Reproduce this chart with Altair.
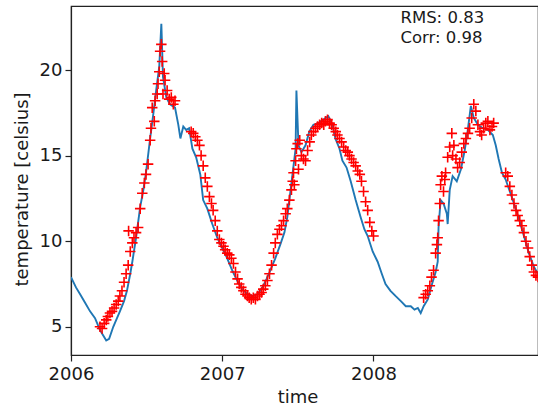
import altair as alt
import pandas as pd

# ---- model (blue line) ----
model_dates = [
    "2006-01-01", "2006-01-13", "2006-01-23", "2006-02-04", "2006-02-16", "2006-02-28",
    "2006-03-12", "2006-03-22", "2006-03-27", "2006-04-03", "2006-04-13", "2006-04-22",
    "2006-04-29", "2006-05-09", "2006-05-16", "2006-05-24", "2006-05-29", "2006-06-07",
    "2006-06-17", "2006-06-24", "2006-07-01", "2006-07-11", "2006-07-18", "2006-07-26",
    "2006-08-02", "2006-08-07", "2006-08-11", "2006-08-19", "2006-08-28", "2006-09-09",
    "2006-09-17", "2006-09-22", "2006-09-29", "2006-10-06", "2006-10-13", "2006-10-21",
    "2006-10-30", "2006-11-09", "2006-11-16", "2006-11-26", "2006-12-08", "2006-12-20",
    "2007-01-01", "2007-01-13", "2007-01-25", "2007-02-06", "2007-02-18", "2007-03-03",
    "2007-03-15", "2007-03-27", "2007-04-08", "2007-04-18", "2007-04-27", "2007-05-09",
    "2007-05-21", "2007-05-31", "2007-06-07", "2007-06-15", "2007-06-22", "2007-06-27",
    "2007-06-29", "2007-07-04", "2007-07-11", "2007-07-21", "2007-07-30", "2007-08-09",
    "2007-08-21", "2007-09-02", "2007-09-14", "2007-09-24", "2007-10-01", "2007-10-11",
    "2007-10-18", "2007-10-28", "2007-11-07", "2007-11-19", "2007-12-01", "2007-12-10",
    "2007-12-18", "2007-12-30", "2008-01-11", "2008-01-21", "2008-01-30", "2008-02-11",
    "2008-02-23", "2008-03-07", "2008-03-19", "2008-03-31", "2008-04-09", "2008-04-17",
    "2008-04-24", "2008-05-01", "2008-05-11", "2008-05-20", "2008-05-30", "2008-06-04",
    "2008-06-06", "2008-06-11", "2008-06-18", "2008-06-26", "2008-06-28", "2008-07-03",
    "2008-07-10", "2008-07-20", "2008-07-30", "2008-08-08", "2008-08-15", "2008-08-23",
    "2008-08-30", "2008-09-09", "2008-09-21", "2008-10-03", "2008-10-15", "2008-10-22",
    "2008-10-29", "2008-11-06", "2008-11-15", "2008-11-25", "2008-12-05", "2008-12-17",
    "2008-12-29", "2009-01-10", "2009-01-22", "2009-02-03",
]
model_temp = [
    7.9, 7.3, 6.9, 6.4, 5.9, 5.5,
    4.8, 4.4, 4.2, 4.3, 5.0, 5.5,
    5.9, 6.5, 7.1, 8.1, 8.8, 10.2,
    12.0, 12.9, 14.0, 16.0, 17.3, 18.9,
    20.2, 22.7, 19.6, 18.4, 18.0, 17.8,
    16.8, 16.0, 16.7, 16.5, 16.6, 15.4,
    14.9, 13.9, 12.4, 11.9, 11.0, 10.2,
    9.6, 9.0, 8.3, 7.7, 7.2, 6.9,
    6.8, 6.9, 7.3, 7.8, 8.3, 9.0,
    9.8, 10.5, 11.4, 13.0, 14.4, 15.4,
    18.8, 15.6, 15.2, 15.6, 16.4, 16.8,
    16.9, 17.1, 17.3, 16.8, 16.0, 15.4,
    14.7, 14.3, 13.5, 12.4, 11.4, 10.7,
    10.3, 9.4, 8.8, 8.1, 7.5, 7.1,
    6.8, 6.5, 6.2, 6.2, 6.0, 6.1,
    5.8, 6.2, 6.6, 7.4, 8.2, 8.8,
    10.8, 12.4, 12.2, 11.6, 11.0, 13.0,
    13.8, 13.5, 14.2, 15.3, 16.4, 17.9,
    17.2, 16.8, 16.6, 16.5, 16.2, 15.6,
    14.8, 14.0, 13.6, 12.9, 12.2, 11.3,
    10.3, 9.3, 8.5, 8.0,
]

# ---- observations (red plus markers) ----
obs_dates = [
    # 2006 spring-summer
    "2006-03-12", "2006-03-17", "2006-03-22", "2006-03-27", "2006-03-31", "2006-04-05",
    "2006-04-10", "2006-04-15", "2006-04-20", "2006-04-25", "2006-04-29", "2006-05-04",
    "2006-05-09", "2006-05-14", "2006-05-19", "2006-05-20", "2006-05-24", "2006-05-29",
    "2006-06-02", "2006-06-07", "2006-06-12", "2006-06-17", "2006-06-22", "2006-06-27",
    "2006-07-01", "2006-07-06", "2006-07-11", "2006-07-13", "2006-07-16", "2006-07-21",
    "2006-07-23", "2006-07-28", "2006-07-30", "2006-08-02", "2006-08-04", "2006-08-07",
    "2006-08-09", "2006-08-11", "2006-08-14", "2006-08-16", "2006-08-21", "2006-08-26",
    "2006-08-31", "2006-09-05", "2006-09-09",
    # 2006 autumn - 2007
    "2006-10-18", "2006-10-23", "2006-10-28", "2006-11-02", "2006-11-07", "2006-11-11",
    "2006-11-16", "2006-11-21", "2006-11-26", "2006-12-01", "2006-12-06", "2006-12-10",
    "2006-12-15", "2006-12-20", "2006-12-25", "2006-12-30", "2007-01-04", "2007-01-08",
    "2007-01-13", "2007-01-18", "2007-01-23", "2007-01-28", "2007-02-02", "2007-02-07",
    "2007-02-11", "2007-02-16", "2007-02-21", "2007-02-26", "2007-03-03", "2007-03-07",
    "2007-03-12", "2007-03-17", "2007-03-22", "2007-03-27", "2007-04-01", "2007-04-06",
    "2007-04-10", "2007-04-15", "2007-04-20", "2007-04-25", "2007-04-30", "2007-05-05",
    "2007-05-09", "2007-05-14", "2007-05-19", "2007-05-24", "2007-05-29", "2007-06-03",
    "2007-06-07", "2007-06-12", "2007-06-17", "2007-06-20", "2007-06-22", "2007-06-24",
    "2007-06-27", "2007-06-29", "2007-07-02", "2007-07-04", "2007-07-07", "2007-07-11",
    "2007-07-16", "2007-07-21", "2007-07-26", "2007-07-31", "2007-08-04", "2007-08-09",
    "2007-08-14", "2007-08-19", "2007-08-24", "2007-08-29", "2007-09-03", "2007-09-07",
    "2007-09-12", "2007-09-17", "2007-09-22", "2007-09-27", "2007-10-02", "2007-10-06",
    "2007-10-11", "2007-10-16", "2007-10-21", "2007-10-26", "2007-10-31", "2007-11-04",
    "2007-11-09", "2007-11-14", "2007-11-19", "2007-11-24", "2007-11-29", "2007-12-03",
    "2007-12-08", "2007-12-13", "2007-12-18", "2007-12-23", "2007-12-28", "2008-01-01",
    # 2008
    "2008-05-01", "2008-05-06", "2008-05-11", "2008-05-16", "2008-05-20", "2008-05-25",
    "2008-05-30", "2008-06-02", "2008-06-04", "2008-06-06", "2008-06-09", "2008-06-11",
    "2008-06-14", "2008-06-18", "2008-06-21", "2008-06-23", "2008-06-28", "2008-07-03",
    "2008-07-08", "2008-07-10", "2008-07-13", "2008-07-18", "2008-07-22", "2008-07-27",
    "2008-08-01", "2008-08-06", "2008-08-11", "2008-08-16", "2008-08-20", "2008-08-25",
    "2008-08-30", "2008-09-04", "2008-09-09", "2008-09-14", "2008-09-18", "2008-09-23",
    "2008-09-28", "2008-10-03", "2008-10-08", "2008-10-13", "2008-10-17",
    "2008-11-15", "2008-11-20", "2008-11-25", "2008-11-30", "2008-12-05", "2008-12-10",
    "2008-12-14", "2008-12-19", "2008-12-24", "2008-12-29", "2009-01-03", "2009-01-08",
    "2009-01-12", "2009-01-17", "2009-01-22", "2009-01-27", "2009-02-01",
]
obs_temp = [
    5.0, 4.9, 5.2, 5.4, 5.6, 5.8,
    5.9, 6.1, 6.3, 6.5, 6.8, 7.1,
    7.6, 8.1, 8.6, 10.6, 9.4, 9.9,
    10.2, 10.5, 10.8, 11.9, 12.8, 13.4,
    13.9, 14.5, 15.9, 16.6, 17.8, 17.0,
    18.2, 18.6, 19.2, 19.9, 21.1, 21.5,
    20.5, 18.6, 19.8, 19.4, 18.8, 18.3,
    18.4, 18.0, 18.2,
    16.4, 16.3, 16.1, 15.9, 15.6, 15.0,
    14.4, 13.7, 13.2, 12.6, 12.2, 11.8,
    11.2, 10.6, 10.1, 9.9, 9.7, 9.5,
    9.3, 9.2, 9.0, 8.7, 8.2, 7.8,
    7.5, 7.3, 7.1, 6.9, 6.8, 6.7,
    6.6, 6.7, 6.6, 6.8, 6.9, 7.0,
    7.2, 7.4, 7.7, 8.1, 8.6, 9.3,
    9.9, 10.4, 10.7, 10.9, 11.2, 11.6,
    11.9, 12.4, 13.0, 13.5, 14.0, 13.3,
    14.7, 15.4, 15.7, 14.2, 15.9, 15.0,
    14.8, 14.7, 15.3, 15.8, 16.2, 16.4,
    16.6, 16.7, 16.8, 16.9, 16.8, 17.0,
    17.1, 16.9, 16.8, 16.6, 16.4, 16.2,
    16.0, 15.8, 15.5, 15.3, 15.2, 15.0,
    14.8, 14.6, 14.4, 14.1, 13.9, 13.5,
    12.9, 12.3, 11.8, 11.1, 10.6, 10.3,
    6.7, 6.9, 7.1, 7.4, 7.9, 8.3,
    9.3, 9.8, 10.2, 11.2, 12.2, 13.3,
    13.8, 12.9, 13.6, 14.0, 14.9, 15.5,
    16.3, 15.0, 15.6, 14.8, 14.3, 14.6,
    15.2, 15.7, 16.0, 16.3, 16.6, 17.2,
    18.0, 17.6, 16.8, 16.4, 16.2, 16.6,
    16.9, 17.0, 16.5, 16.7, 16.9,
    14.0, 13.8, 13.2, 12.7, 12.2, 11.8,
    11.5, 11.2, 10.9, 10.5, 10.0, 9.6,
    9.1, 8.6, 8.2, 8.0, 7.9,
]

# statistics box (two lines)
stat_labels = ["RMS: 0.83", "Corr: 0.98"]
stat_dates = ["2008-03-06", "2008-03-06"]
stat_temp = [22.75, 21.6]

x_tick_years = [2006, 2007, 2008]
y_ticks = [5, 10, 15, 20]
x_start = (2006, 1, 1)
x_end = (2009, 2, 1)
y_domain = [3.35, 23.74]

FONT = "DejaVu Sans"
FS = 18

model = pd.DataFrame({"time": model_dates, "temp": model_temp})
obs = pd.DataFrame({"time": obs_dates, "temp": obs_temp})
stats = pd.DataFrame({"time": stat_dates, "temp": stat_temp, "label": stat_labels})

x_scale = alt.Scale(
    type="utc",
    domain=[
        alt.DateTime(year=x_start[0], month=x_start[1], date=x_start[2], utc=True),
        alt.DateTime(year=x_end[0], month=x_end[1], date=x_end[2], utc=True),
    ],
    nice=False,
)
y_scale = alt.Scale(domain=y_domain, nice=False, zero=False)

x_axis = alt.Axis(
    title="time",
    values=[alt.DateTime(year=y, month=1, date=1, utc=True) for y in x_tick_years],
    format="%Y",
    formatType="utc",
    grid=False,
    tickSize=6,
    labelPadding=4,
    labelFlush=False,
    titleX=226.5,
    titleY=47,
    titleBaseline="alphabetic",
)
y_axis = alt.Axis(
    title="temperature [celsius]",
    values=y_ticks,
    grid=False,
    tickSize=6,
    labelPadding=3,
    labelFlush=False,
    titleX=-44,
    titleY=183,
    titleBaseline="alphabetic",
)

line = alt.Chart(model).mark_line(color="#1f77b4", strokeWidth=1.9, clip=True).encode(
    x=alt.X("time:T", scale=x_scale, axis=x_axis),
    y=alt.Y("temp:Q", scale=y_scale, axis=y_axis),
)

points = alt.Chart(obs).mark_point(
    shape="M-1,0L1,0M0,-1L0,1",
    filled=False,
    stroke="#ff0000",
    strokeWidth=1.6,
    size=110,
    opacity=1,
    clip=True,
).encode(
    x=alt.X("time:T", scale=x_scale),
    y=alt.Y("temp:Q", scale=y_scale),
)

text = alt.Chart(stats).mark_text(
    align="left",
    baseline="alphabetic",
    font=FONT,
    fontSize=16.5,
    color="#1a1a1a",
).encode(
    x=alt.X("time:T", scale=x_scale),
    y=alt.Y("temp:Q", scale=y_scale),
    text="label:N",
)

chart = (
    alt.layer(line, points, text)
    .properties(
        width=467,
        height=349,
        autosize=alt.AutoSizeParams(type="none"),
        padding={"left": 71, "top": 6, "right": 0, "bottom": 55},
    )
    .configure_view(stroke="#222222", strokeWidth=1.2)
    .configure_axis(
        labelFont=FONT,
        labelFontSize=FS,
        labelColor="#1a1a1a",
        titleFont=FONT,
        titleFontSize=FS,
        titleFontWeight="normal",
        titleColor="#1a1a1a",
        domainColor="#222222",
        tickColor="#222222",
        domainWidth=1.2,
        tickWidth=1.2,
    )
)

chart.save("out.html", embed_options={"renderer": "svg", "actions": False})
